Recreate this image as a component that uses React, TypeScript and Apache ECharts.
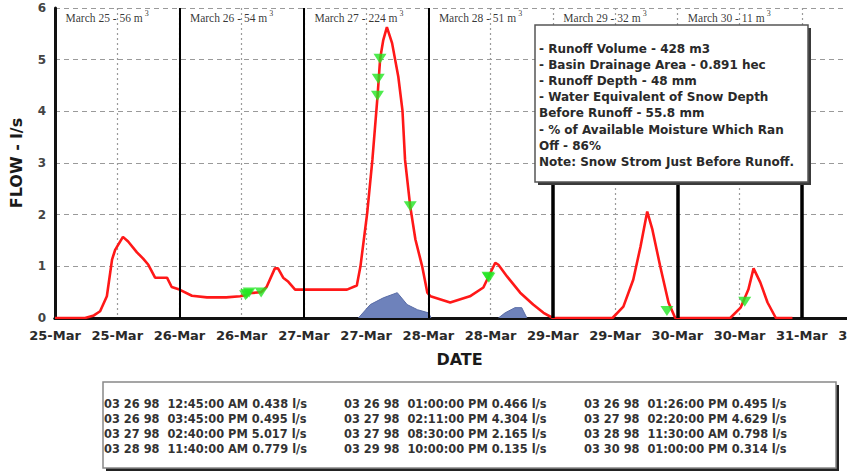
import React, { useEffect, useRef } from "react";
import * as echarts from "echarts";

// Hydrograph: flow (l/s) by hours since 25-Mar 00:00
const flowHours = [
  0, 5.8, 7.5, 8.7, 10, 11, 11.6, 13.1, 14.1, 15.8, 17, 18, 19.3, 21.6, 22.5, 24,
  26.4, 29.3, 33, 35.7, 36.75, 37.4, 39.75, 40.8, 42.4, 43, 44, 45, 46.3, 52, 56.3,
  58.2, 58.9, 60.2, 61.2, 62.2, 62.7, 63.3, 64, 65, 66.2, 67, 67.5, 68.5, 69.5,
  70.8, 71.8, 72.4, 76.2, 80, 82.6, 83.5, 84.9, 85.5, 87.2, 89.7, 92.2, 94.2, 96,
  107.5, 109.6, 111.5, 112.9, 114.2, 115.2, 116.7, 118.3, 119.6, 130.2, 132.2,
  133.7, 134.7, 136, 137.4, 139, 142.2,
];
const flowValues = [
  0, 0, 0.05, 0.13, 0.42, 1.13, 1.32, 1.57, 1.48, 1.27, 1.15, 1.03, 0.78, 0.78, 0.6, 0.55,
  0.43, 0.4, 0.4, 0.42, 0.44, 0.48, 0.5, 0.6, 0.96, 0.96, 0.78, 0.7, 0.55, 0.55, 0.55,
  0.63, 1.0, 2.03, 3.06, 4.3, 5.02, 5.38, 5.63, 5.32, 4.67, 4.02, 3.06, 2.16, 1.52,
  1.0, 0.49, 0.42, 0.3, 0.42, 0.59, 0.78, 1.07, 1.03, 0.8, 0.49, 0.26, 0.1, 0,
  0, 0.22, 0.74, 1.38, 2.06, 1.71, 1.0, 0.3, 0, 0, 0.2,
  0.55, 0.96, 0.69, 0.3, 0, 0,
];

// Snowmelt input (shaded)
const meltHoursA = [58.5, 60.8, 63.3, 66, 67.9, 69.9, 72, 72.3, 72.5];
const meltValuesA = [0, 0.26, 0.39, 0.49, 0.26, 0.16, 0.1, 0.05, 0];
const meltHoursB = [85.5, 86.8, 88.7, 90, 91];
const meltValuesB = [0, 0.1, 0.2, 0.2, 0];

// Sampled readings (row-major order of the table)
const readingDates = [
  "03 26 98", "03 26 98", "03 26 98",
  "03 26 98", "03 27 98", "03 27 98",
  "03 27 98", "03 27 98", "03 28 98",
  "03 28 98", "03 29 98", "03 30 98",
];
const readingClock = [
  "12:45:00 AM", "01:00:00 PM", "01:26:00 PM",
  "03:45:00 PM", "02:11:00 PM", "02:20:00 PM",
  "02:40:00 PM", "08:30:00 PM", "11:30:00 AM",
  "11:40:00 AM", "10:00:00 PM", "01:00:00 PM",
];
const readingFlows = [0.438, 0.466, 0.495, 0.495, 4.304, 4.629, 5.017, 2.165, 0.798, 0.779, 0.135, 0.314];
// Plotted sample times (hours since 25-Mar 00:00)
const readingHours = [36.75, 37, 37.43, 39.75, 62.18, 62.33, 62.67, 68.5, 83.5, 83.67, 118, 133];

// Daily runoff volumes
const dayNames = ["March 25", "March 26", "March 27", "March 28", "March 29", "March 30"];
const dayVolumes = [56, 54, 224, 51, 32, 11];

const summaryLines = [
  "- Runoff Volume - 428 m3",
  "- Basin Drainage Area - 0.891 hec",
  "- Runoff Depth - 48 mm",
  "- Water Equivalent of Snow Depth",
  "Before Runoff - 55.8 mm",
  "- % of Available Moisture Which Ran",
  "Off - 86%",
  "Note: Snow Strom Just Before Runoff.",
];

const monthDay = (h: number) => `${25 + Math.floor(h / 24)}-Mar`;

const BOLD = "DejaVu Sans";

export default function App() {
  const ref = useRef<HTMLDivElement>(null);

  useEffect(() => {
    if (!ref.current) return;
    const chart = echarts.init(ref.current, undefined, { renderer: "svg" });

    const pairs = (xs: number[], ys: number[]) => xs.map((x, i) => [x, ys[i]]);

    const tableCols = [0, 1, 2].map((c) =>
      [0, 1, 2, 3]
        .map((r) => {
          const i = r * 3 + c;
          return `${readingDates[i]}  ${readingClock[i]} ${readingFlows[i].toFixed(3)} l/s`;
        })
        .join("\n")
    );

    const option: any = {
      animation: false,
      backgroundColor: "#ffffff",
      grid: { left: 55, right: -17, top: 8, bottom: 155, outerBoundsMode: "none", containLabel: false },
      xAxis: [
        {
          type: "value",
          min: 0,
          max: 156,
          interval: 12,
          position: "bottom",
          axisLine: { show: true, onZero: false, lineStyle: { color: "#111", width: 3 } },
          axisTick: { show: false },
          axisLabel: {
            formatter: (v: number) => monthDay(v),
            fontFamily: BOLD,
            fontWeight: "bold",
            fontSize: 13,
            color: "#2a2a2a",
            margin: 11,
          },
          splitLine: { show: true, lineStyle: { color: "#9a9a9a", type: [2, 3], width: 1.2 } },
          name: "DATE",
          nameLocation: "middle",
          nameGap: 33,
          nameTextStyle: { fontFamily: BOLD, fontWeight: "bold", fontSize: 16, color: "#1a1a1a" },
        },
        {
          type: "value",
          min: 0,
          max: 156,
          interval: 12,
          position: "top",
          axisLine: { show: true, lineStyle: { color: "#111", width: 3 } },
          axisTick: { show: false },
          axisLabel: { show: false },
          splitLine: { show: false },
        },
      ],
      yAxis: {
        type: "value",
        min: 0,
        max: 6,
        interval: 1,
        axisLine: { show: true, lineStyle: { color: "#111", width: 3 } },
        axisTick: { show: false },
        axisLabel: {
          fontFamily: BOLD,
          fontWeight: "bold",
          fontSize: 12,
          color: "#444",
          margin: 9,
        },
        splitLine: { show: true, lineStyle: { color: "#9a9a9a", type: [5, 4], width: 1.2 } },
        name: "FLOW - l/s",
        nameLocation: "middle",
        nameGap: 31,
        nameTextStyle: { fontFamily: BOLD, fontWeight: "bold", fontSize: 16, color: "#1a1a1a" },
      },
      series: [
        {
          type: "line",
          data: pairs(meltHoursA, meltValuesA),
          symbol: "none",
          lineStyle: { color: "#5a6ca6", width: 1 },
          areaStyle: { color: "#6e82bb", opacity: 1 },
          z: 2,
        },
        {
          type: "line",
          data: pairs(meltHoursB, meltValuesB),
          symbol: "none",
          lineStyle: { color: "#5a6ca6", width: 1 },
          areaStyle: { color: "#6e82bb", opacity: 1 },
          z: 2,
        },
        {
          type: "line",
          data: pairs(flowHours, flowValues),
          symbol: "none",
          lineStyle: { color: "#ff1818", width: 2.6 },
          z: 4,
          markLine: {
            silent: true,
            symbol: ["none", "none"],
            label: { show: false },
            lineStyle: { color: "#000", width: 2, type: "solid" },
            data: [
              { xAxis: 24 },
              { xAxis: 48 },
              { xAxis: 72 },
              [
                { coord: [96, 0], lineStyle: { color: "#000", width: 3.5, type: "solid" } },
                { coord: [96, 2.62] },
              ],
              [
                { coord: [120, 0], lineStyle: { color: "#000", width: 3.5, type: "solid" } },
                { coord: [120, 2.62] },
              ],
              [
                { coord: [144, 0], lineStyle: { color: "#000", width: 3.5, type: "solid" } },
                { coord: [144, 2.62] },
              ],
            ],
          },
        },
        {
          type: "scatter",
          data: pairs(readingHours, readingFlows),
          symbol: "triangle",
          symbolRotate: 180,
          symbolSize: [13, 10],
          itemStyle: { color: "#22e622" },
          z: 5,
        },
        {
          type: "scatter",
          data: dayNames.map((n, i) => ({
            value: [i * 24, 5.8],
            label: { formatter: `{a|${n} - ${dayVolumes[i]} m}{s|3}` },
          })),
          symbolSize: 1,
          itemStyle: { color: "rgba(0,0,0,0)" },
          label: {
            show: true,
            position: "right",
            distance: 10,
            rich: {
              a: { fontFamily: "Liberation Serif", fontSize: 11.5, color: "#000" },
              s: { fontFamily: "Liberation Serif", fontSize: 8, color: "#000", padding: [0, 0, 9, 2] },
            },
          },
          z: 6,
        },
      ],
      graphic: [
        // summary box
        { type: "rect", shape: { x: 538, y: 28, width: 273, height: 157 }, style: { fill: "#3a3a3a" }, z: 100 },
        {
          type: "rect",
          shape: { x: 535, y: 25, width: 273, height: 157 },
          style: { fill: "#ffffff", stroke: "#555", lineWidth: 1.5 },
          z: 101,
        },
        {
          type: "text",
          x: 539,
          y: 41,
          z: 102,
          style: {
            text: summaryLines.join("\n"),
            fontFamily: BOLD,
            fontWeight: "bold",
            fontSize: 12,
            lineHeight: 16.1,
            fill: "#2a2a2a",
            verticalAlign: "top",
          },
        },
        // readings table
        { type: "rect", shape: { x: 106, y: 385, width: 733, height: 86 }, style: { fill: "#222" }, z: 100 },
        {
          type: "rect",
          shape: { x: 103, y: 382, width: 733, height: 86 },
          style: { fill: "#ffffff", stroke: "#888", lineWidth: 1.5 },
          z: 101,
        },
        ...tableCols.map((t, c) => ({
          type: "text",
          x: 104 + c * 240,
          y: 397,
          z: 102,
          style: {
            text: t,
            fontFamily: BOLD,
            fontWeight: "bold",
            fontSize: 11.4,
            lineHeight: 14.8,
            fill: "#333",
            verticalAlign: "top",
          },
        })),
      ],
    };

    chart.setOption(option);
    return () => chart.dispose();
  }, []);

  return (
    <div
      ref={ref}
      style={{ position: "fixed", left: 0, top: 0, width: 847, height: 473, background: "#fff" }}
    />
  );
}
